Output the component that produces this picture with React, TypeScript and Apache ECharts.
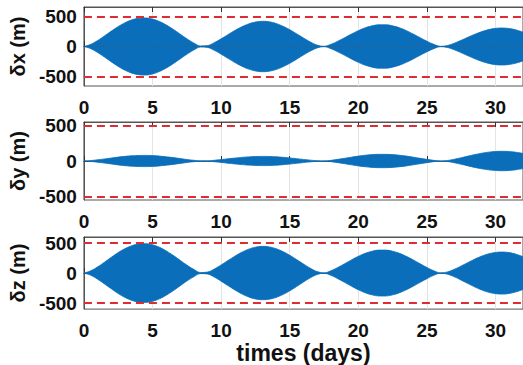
import React, { useEffect, useRef } from "react";
import * as echarts from "echarts";

// time samples (days)
const times: number[] = [
  0, 0.5, 1, 1.5, 2, 2.5, 3, 3.5, 4, 4.5, 5, 5.5, 6, 6.5, 7, 7.5, 8, 8.5,
  9, 9.5, 10, 10.5, 11, 11.5, 12, 12.5, 13, 13.5, 14, 14.5, 15, 15.5, 16, 16.5, 17,
  17.5, 18, 18.5, 19, 19.5, 20, 20.5, 21, 21.5, 22, 22.5, 23, 23.5, 24, 24.5, 25, 25.5, 26,
  26.5, 27, 27.5, 28, 28.5, 29, 29.5, 30, 30.5, 31, 31.5, 32,
];

// upper envelopes of the oscillations (m)
const envX: number[] = [
  0, 36, 100, 177, 257, 333, 397, 445, 472, 477, 458, 418, 360, 288, 209, 130, 60, 9,
  15, 64, 128, 198, 267, 328, 377, 409, 421, 413, 385, 339, 281, 212, 142, 76, 23,
  3, 36, 88, 147, 208, 265, 312, 345, 363, 363, 345, 312, 265, 208, 147, 88, 36, 3,
  17, 56, 104, 156, 205, 249, 282, 303, 309, 300, 277, 241,
];
const envY: number[] = [
  0, 6, 17, 29, 42, 55, 66, 73, 78, 79, 76, 69, 59, 48, 35, 21, 10, 2,
  2, 10, 20, 31, 41, 51, 58, 63, 65, 64, 59, 52, 43, 33, 22, 12, 4,
  1, 9, 23, 38, 54, 69, 81, 90, 94, 94, 90, 81, 69, 54, 38, 23, 9, 1,
  7, 25, 46, 69, 91, 110, 125, 134, 137, 133, 123, 107,
];
const envZ: number[] = [
  0, 37, 103, 181, 263, 341, 407, 456, 484, 489, 470, 429, 369, 295, 214, 133, 62, 9,
  16, 67, 135, 209, 281, 346, 397, 431, 444, 435, 406, 358, 296, 224, 150, 80, 24,
  3, 38, 93, 155, 219, 278, 328, 363, 382, 382, 363, 328, 278, 219, 155, 93, 38, 3,
  19, 63, 118, 176, 233, 282, 320, 343, 350, 340, 313, 273,
];

const yNames = ["δx (m)", "δy (m)", "δz (m)"];
const yRanges = [660, 550, 600];
const limitLines = [500, -500];
const xTicks = [0, 5, 10, 15, 20, 25, 30];
const yTicks = [-500, 0, 500];
const xName = "times (days)";

const FONT = "'Liberation Sans', Arial, Helvetica, sans-serif";
const BLUE = "#0A6EBA";
const RED = "#DE2C33";
const FRAME = "#555555";

export default function App() {
  const ref = useRef<HTMLDivElement>(null);
  useEffect(() => {
    if (!ref.current) return;
    const chart = echarts.init(ref.current, undefined, { renderer: "svg" });
    const envs = [envX, envY, envZ];
    const tops = [7, 122, 237];
    const heights = [79, 78, 80];

    const grid = tops.map((t, i) => ({
      left: 79,
      top: t,
      width: 446,
      height: heights[i],
      show: true,
      borderColor: FRAME,
      borderWidth: 1,
      backgroundColor: "#fff",
    }));

    const xAxis: any[] = [];
    const yAxis: any[] = [];
    const series: any[] = [];
    for (let i = 0; i < 3; i++) {
      xAxis.push({
        type: "value",
        gridIndex: i,
        position: "bottom",
        min: 0,
        max: 32,
        interval: 5,
        name: i === 2 ? xName : "",
        nameLocation: "middle",
        nameGap: 14,
        nameTextStyle: { fontFamily: FONT, fontWeight: "bold", fontSize: 23, color: "#111", verticalAlign: "top" },
        axisLine: { show: true, lineStyle: { color: FRAME, width: 1 } },
        axisTick: { show: true, inside: true, length: 5, customValues: xTicks, lineStyle: { color: "#333" } },
        axisLabel: {
          customValues: xTicks,
          fontFamily: FONT,
          fontWeight: "bold",
          fontSize: 19,
          color: "#111",
          margin: 12,
        },
        splitLine: { show: true, lineStyle: { color: "#e4e4e4", width: 1 } },
      });
      xAxis.push({
        type: "value",
        gridIndex: i,
        position: "top",
        min: 0,
        max: 32,
        interval: 5,
        axisLine: { show: true, lineStyle: { color: FRAME, width: 1 } },
        axisTick: { show: true, inside: true, length: 5, customValues: xTicks, lineStyle: { color: "#333" } },
        axisLabel: { show: false },
        splitLine: { show: false },
      });
      yAxis.push({
        type: "value",
        gridIndex: i,
        min: -yRanges[i],
        max: yRanges[i],
        name: yNames[i],
        nameLocation: "middle",
        nameRotate: 90,
        nameGap: 53,
        nameTextStyle: { fontFamily: FONT, fontWeight: "bold", fontSize: 20, color: "#111" },
        axisLine: { show: true, lineStyle: { color: FRAME, width: 1 } },
        axisTick: { show: true, inside: true, length: 5, customValues: yTicks, lineStyle: { color: "#333" } },
        axisLabel: {
          customValues: yTicks,
          fontFamily: FONT,
          fontWeight: "bold",
          fontSize: 19,
          color: "#111",
          margin: 7,
        },
        splitLine: { show: false },
      });
      const up = times.map((t, k) => [t, envs[i][k]]);
      const lo = times.map((t, k) => [t, -envs[i][k]]);
      const common = {
        type: "line",
        xAxisIndex: i * 2,
        yAxisIndex: i,
        showSymbol: false,
        smooth: 0.4,
        silent: true,
        lineStyle: { color: BLUE, width: 0.8 },
        areaStyle: { color: BLUE, opacity: 1 },
        z: 2,
      };
      series.push({ ...common, data: up });
      series.push({
        ...common,
        data: lo,
        markLine: {
          silent: true,
          symbol: ["none", "none"],
          label: { show: false },
          lineStyle: { color: RED, width: 2, type: [8, 5] },
          data: limitLines.map((v) => ({ yAxis: v })),
          z: 5,
        },
      });
    }

    chart.setOption({
      animation: false,
      backgroundColor: "#fff",
      grid,
      xAxis,
      yAxis,
      series,
    });
    return () => chart.dispose();
  }, []);
  return (
    <div
      ref={ref}
      style={{ position: "absolute", left: 0, top: 0, width: 523, height: 365 }}
    />
  );
}
